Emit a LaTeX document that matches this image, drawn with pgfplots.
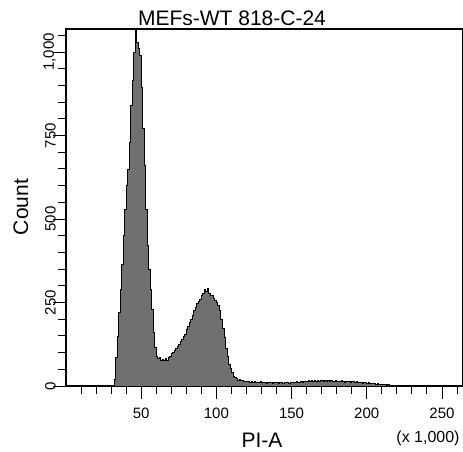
\documentclass[border=0pt]{standalone}
\usepackage{pgfplots}
\pgfplotsset{compat=1.18}
\usepackage{fontspec}
\setmainfont{Liberation Sans}
\definecolor{histfill}{RGB}{112,112,112}
\begin{document}
\begin{tikzpicture}[x=1pt,y=1pt]
\begin{axis}[
  at={(66pt,-386pt)}, anchor=south west,
  scale only axis, width=397pt, height=357pt,
  xmin=0, xmax=264, ymin=0, ymax=1069,
  axis line style={line width=1.1pt},
  tick align=outside, tick pos=left,
  major tick length=13pt, minor tick length=8pt,
  tick style={black, line width=0.9pt},
  xtick={50,100,150,200,250},
  minor xtick={10,20,30,40,60,70,80,90,110,120,130,140,160,170,180,190,210,220,230,240,260},
  ytick={0,250,500,750,1000},
  minor ytick={50,100,150,200,300,350,400,450,550,600,650,700,800,850,900,950,1050},
  yticklabels={0,250,500,750,{1,000}},
  /pgf/number format/assume math mode=true,
  ticklabel style={font=\fontsize{15}{17}\selectfont},
  yticklabel style={xshift=3pt, rotate=90, anchor=south, inner sep=0pt},
  xticklabel style={inner sep=0pt, anchor=north, yshift=-9pt},
  axis on top=false,
]
\addplot[const plot, fill=histfill, draw=black, line width=0.8pt] coordinates {
(30,0)(31,0)(32,20)(33,85)(34,150)(35,220)(36,290)(37,365)(38,450)(39,530)
(40,600)(41,650)(42,730)(43,840)(44,915)(45,1000)(46,1068)(47,1030)(48,1010)(49,990)
(50,895)(51,770)(52,660)(53,530)(54,420)(55,350)(56,290)(57,230)(58,160)(59,115)
(60,90)(61,82)(62,86)(63,78)(64,80)(65,76)(66,82)(67,78)(68,86)(69,90)
(70,97)(71,100)(72,108)(73,112)(74,120)(75,124)(76,134)(77,140)(78,148)(79,155)
(80,168)(81,178)(82,190)(83,200)(84,212)(85,226)(86,236)(87,246)(88,252)(89,260)
(90,270)(91,278)(92,290)(93,282)(94,292)(95,276)(96,270)(97,272)(98,262)(99,256)
(100,250)(101,240)(102,226)(103,200)(104,172)(105,145)(106,112)(107,88)(108,66)(109,52)
(110,40)(111,30)(112,25)(113,22)(114,18)(115,20)(116,16)(117,18)(118,14)(119,15)
(120,13)(121,14)(122,11)(123,13)(124,12)(125,14)(126,10)(127,12)(128,11)(129,13)
(130,10)(131,12)(132,11)(133,9)(134,12)(135,10)(136,11)(137,9)(138,12)(139,10)
(140,11)(141,9)(142,10)(143,12)(144,9)(145,11)(146,10)(147,12)(148,9)(149,11)
(150,10)(151,12)(152,11)(153,13)(154,10)(155,12)(156,14)(157,11)(158,13)(159,15)
(160,13)(161,16)(162,14)(163,17)(164,15)(165,18)(166,14)(167,17)(168,15)(169,18)
(170,16)(171,14)(172,17)(173,15)(174,16)(175,14)(176,17)(177,15)(178,13)(179,16)
(180,14)(181,15)(182,13)(183,16)(184,14)(185,12)(186,15)(187,13)(188,14)(189,12)
(190,15)(191,13)(192,11)(193,14)(194,12)(195,10)(196,12)(197,9)(198,11)(199,10)
(200,8)(201,10)(202,8)(203,9)(204,7)(205,8)(206,6)(207,7)(208,5)(209,6)
(210,5)(211,4)(212,5)(213,3)(214,4)(215,3)(216,2)(217,2)(218,1)(219,0)(220,0)
} \closedcycle;
\end{axis}
\node[font=\fontsize{21}{24}\selectfont, inner sep=0pt] at (232pt,-18pt) {MEFs-WT 818-C-24};
\node[font=\fontsize{21}{24}\selectfont, inner sep=0pt, rotate=90] at (21pt,-207pt) {Count};
\node[font=\fontsize{21}{24}\selectfont, inner sep=0pt] at (262pt,-440pt) {PI-A};
\node[font=\fontsize{16}{18}\selectfont, inner sep=0pt] at (428pt,-438pt) {(x 1,000)};
\pgfresetboundingbox
\path[use as bounding box] (0,0) rectangle (463pt,-452pt);
\end{tikzpicture}
\end{document}
